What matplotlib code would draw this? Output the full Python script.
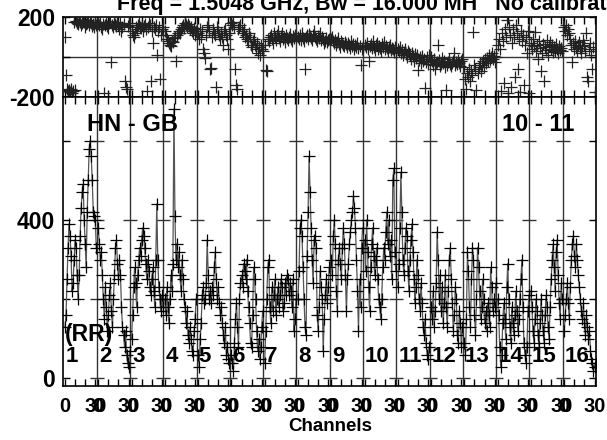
import numpy as np
import matplotlib.pyplot as plt

plt.rcParams["font.family"] = ["Liberation Sans", "DejaVu Sans"]
plt.rcParams["font.weight"] = "bold"

baseline = "HN - GB"
stokes = "(RR)"
timerange = "10 - 11"
title = "Freq = 1.5048 GHz, Bw = 16.000 MH   No calibration"

n_if = 16
n_chan = 32
if_labels = [str(i) for i in range(1, n_if + 1)]

# amplitude per IF, channels 0..31
amp = [
    [130, 160, 250, 330, 390, 360, 310, 220, 240, 300, 350, 330, 260, 200, 260, 360,
     430, 470, 490, 400, 340, 280, 420, 500, 580, 600, 560, 500, 420, 410, 400, 330],
    [380, 340, 300, 320, 260, 200, 150, 230, 180, 120, 160, 210, 240, 170, 130, 200,
     260, 330, 350, 290, 250, 300, 260, 180, 130, 110, 80, 120, 60, 40, 30, 70],
    [100, 160, 230, 280, 240, 180, 260, 300, 330, 310, 350, 380, 360, 330, 290, 250,
     300, 270, 230, 210, 250, 280, 220, 180, 300, 440, 300, 230, 200, 170, 210, 180],
    [200, 160, 230, 180, 140, 200, 260, 220, 290, 680, 410, 300, 340, 280, 320, 260,
     220, 300, 250, 200, 180, 140, 170, 110, 90, 130, 100, 70, 60, 120, 150, 200],
    [60, 30, 100, 140, 210, 230, 190, 200, 240, 350, 260, 200, 220, 190, 230, 210,
     280, 320, 250, 200, 230, 190, 160, 180, 140, 110, 90, 130, 60, 80, 50, 40],
    [60, 40, 20, 90, 150, 190, 130, 80, 200, 240, 260, 230, 290, 270, 250, 300,
     220, 180, 140, 90, 80, 160, 280, 250, 200, 120, 70, 100, 50, 80, 130, 170],
    [40, 120, 200, 280, 300, 180, 140, 230, 170, 210, 250, 160, 200, 230, 180, 210,
     250, 230, 170, 190, 240, 210, 260, 250, 210, 240, 220, 180, 250, 120, 150, 200],
    [200, 270, 380, 400, 360, 280, 200, 130, 110, 310, 420, 560, 470, 380, 300, 240,
     350, 360, 330, 160, 120, 180, 270, 230, 200, 70, 150, 210, 250, 190, 230, 280],
    [300, 260, 360, 400, 340, 220, 170, 300, 330, 290, 250, 330, 380, 340, 260, 170,
     250, 290, 340, 370, 400, 420, 460, 430, 380, 300, 220, 120, 250, 180, 330, 380],
    [350, 270, 400, 320, 230, 170, 280, 340, 380, 310, 260, 300, 330, 250, 200, 180,
     150, 200, 280, 330, 300, 370, 420, 340, 400, 310, 350, 250, 500, 530, 320, 270],
    [230, 290, 380, 520, 420, 300, 260, 330, 380, 360, 270, 220, 300, 350, 390, 320,
     250, 190, 230, 300, 260, 200, 170, 240, 190, 130, 110, 150, 90, 60, 50, 80],
    [180, 150, 220, 130, 170, 240, 370, 300, 200, 260, 170, 230, 140, 190, 260, 180,
     130, 220, 300, 330, 250, 190, 120, 160, 230, 200, 110, 90, 170, 140, 80, 130],
    [90, 60, 150, 320, 270, 180, 130, 250, 330, 300, 160, 110, 200, 330, 280, 220,
     150, 180, 250, 200, 140, 170, 120, 190, 160, 130, 280, 230, 170, 200, 180, 240],
    [200, 160, 80, 30, 60, 140, 190, 150, 100, 230, 290, 200, 130, 90, 180, 140,
     110, 160, 220, 170, 120, 150, 200, 250, 300, 180, 90, 60, 40, 80, 170, 210],
    [220, 180, 120, 90, 150, 200, 170, 110, 80, 140, 200, 160, 120, 90, 160, 210,
     180, 130, 100, 180, 250, 300, 340, 280, 220, 320, 350, 260, 190, 150, 240, 200],
    [120, 160, 200, 240, 190, 150, 230, 300, 340, 360, 310, 280, 340, 300, 260, 230,
     200, 170, 150, 190, 140, 110, 160, 130, 100, 120, 70, 50, 40, 20, 30, 40],
]

# phase (degrees) per IF, channels 0..31
phase = [
    [100, -90, -160, -170, -165, -175, -160, -180, -170, 175, -165, 180, 170, 165, 185, 175,
     160, 170, 180, 175, 150, 165, 170, 185, 160, 175, 170, 155, 165, 150, 170, 160],
    [170, 160, 175, 150, 140, 165, -180, 160, 170, 155, 145, 170, 180, -25, 160, 150,
     170, 165, 155, 175, 160, 140, 170, 130, 150, 165, -120, -150, -160, 155, 170, 160],
    [130, 110, 100, 120, 150, 140, 160, 170, 150, 145, 160, 130, 155, 165, 140, -170,
     150, 170, 160, -120, 130, 70, 150, 140, 160, 10, 130, 150, -110, 110, 140, 150],
    [130, 110, 90, 80, 70, 60, 55, 80, 75, 95, 100, -20, 110, 120, 130, 120,
     140, 150, 160, 145, 170, 160, 150, 165, 155, 140, 150, 130, 120, 145, 110, 130],
    [120, 90, 140, 100, 130, 40, 20, -5, 110, 150, 160, 130, -60, -55, 100, 140,
     120, 110, -150, 150, 130, 110, 90, 120, 100, 60, 130, 140, 110, 90, 40, 120],
    [170, 160, 175, 150, -60, -140, -160, 140, 150, 160, 130, 120, 140, 100, 110, 90,
     80, 120, 100, 60, 50, 80, 90, 60, 40, 70, 20, 50, 10, 60, 40, 30],
    [60, -65, -70, 90, 80, 100, 110, 90, 70, 120, 100, 85, 110, 130, 95, 80,
     105, 120, 90, 100, 75, 110, 95, 85, 100, 115, 90, 80, 105, 95, 110, 100],
    [100, 90, 110, 85, 120, 95, 80, -60, 100, 110, 90, 115, 105, 95, 85, 110,
     130, 100, 90, 80, 105, 95, 120, 85, 100, 90, 70, 80, 95, 75, 85, 90],
    [90, 100, 80, 70, 85, 60, 75, 95, 65, 50, 80, 70, 60, 55, 75, 65,
     50, 70, 60, 45, 80, 55, 65, 40, 60, 50, 70, 45, 55, -40, 40, 50],
    [60, 50, 70, 40, -20, 55, 65, 45, 80, 50, 35, 60, 70, 40, 55, 45,
     30, 65, 50, 75, 40, 55, 45, 30, 50, 60, 35, 45, 40, 25, 50, 20],
    [40, 30, 50, 20, 35, 10, 25, 40, 15, 0, 30, 20, 10, -10, 20, 5,
     -20, 15, -5, 10, -65, -15, 0, -30, 5, -20, -10, -155, -25, 0, -35, 10],
    [0, -20, -40, -10, -60, -30, -25, 60, -15, -45, -35, -5, -30, -20, -50, -165,
     -40, -25, -10, -35, -45, -30, -20, 20, -40, -25, -35, -15, -30, -45, -20, -10],
    [-50, -110, -160, -80, -100, -60, -120, -70, -90, 125, -40, -60, -165, -80, -50, -30,
     -70, -40, -20, -50, -10, -30, -5, -20, 10, -15, 0, 20, -10, 5, -25, 0],
    [60, 90, 40, -170, 120, 80, -130, 140, 100, 185, -180, 150, 110, -150, 70, 140,
     100, -100, 160, 120, -60, 90, -175, 130, 80, 110, -140, 60, 100, 20, 130, -180],
    [70, 40, 90, 55, 125, 30, 60, -10, 80, 45, -70, 20, 65, -120, 50, 35,
     85, 10, 55, 75, 40, 60, 25, 50, 30, 65, 40, 20, 55, 35, 45, 30],
    [150, 130, 160, 110, 140, 120, 90, 60, -25, 70, 40, 80, 50, 30, 60, 75,
     45, 20, 55, 85, 60, 30, 118, -100, -120, 40, 70, 10, -60, 50, -175, 30],
]

step = n_chan + 1
chan = np.arange(n_chan)
starts = np.arange(n_if) * step
bounds = np.arange(1, n_if) * step - 1.5
xmin, xmax = -1.5, n_if * step - 1.5

fig = plt.figure(figsize=(6.07, 4.40), dpi=100)
ax_ph = fig.add_axes([0.1046, 0.7795, 0.8773, 0.1818])
ax_am = fig.add_axes([0.1046, 0.1227, 0.8773, 0.6568])

for k in range(n_if):
    x = starts[k] + chan
    ax_am.plot(x, amp[k], color="#555555", lw=0.9, zorder=2)
    ax_am.plot(x, amp[k], ls="none", marker="+", ms=9, mew=0.9, color="black", zorder=3)
    ax_ph.plot(x, phase[k], ls="none", marker="+", ms=9, mew=0.9, color="#222222", zorder=3)

for ax in (ax_ph, ax_am):
    for b in bounds:
        ax.axvline(b, color="#333333", lw=1.0, zorder=1)
    ax.set_xlim(xmin, xmax)
    for s in ax.spines.values():
        s.set_linewidth(1.2)
    minor = np.concatenate([s + np.array([10, 20]) for s in starts])
    ax.set_xticks(minor, minor=True)
    ax.tick_params(axis="both", which="both", direction="in", top=True, right=True,
                   length=5, width=1.0)

ax_ph.set_ylim(-200, 200)
ax_ph.axhline(0, color="#333333", lw=1.0, zorder=1)
ax_ph.set_yticks([-200, 0, 200])
ax_ph.set_yticklabels(["-200", "", "200"], fontsize=16.5, fontweight="bold")
ax_ph.set_xticks(np.concatenate([starts, starts + 30]))
ax_ph.set_xticklabels([])

ax_am.set_ylim(-19, 710)
amp_ticks = [0, 200, 400, 600]
ax_am.set_yticks(amp_ticks)
ax_am.set_yticklabels(["0", "", "400", ""], fontsize=16.5, fontweight="bold")
for t in amp_ticks:
    ax_am.plot(bounds, [t] * len(bounds), ls="none", marker="_", ms=10, mew=1.0,
               color="#333333", zorder=1)

xt = np.concatenate([starts, starts + 30])
xl = ["0"] * n_if + ["30"] * n_if
ax_am.set_xticks(xt)
ax_am.set_xticklabels(xl, fontsize=14.5, fontweight="bold")
ax_am.tick_params(axis="x", pad=8)
ax_am.tick_params(axis="y", pad=6)
ax_ph.tick_params(axis="y", pad=6)
ax_am.set_xlabel("Channels", fontsize=13.5, fontweight="bold", labelpad=1)

ax_am.text(0.045, 0.905, baseline, transform=ax_am.transAxes, fontsize=17,
           fontweight="bold", va="center", ha="left")
ax_am.text(0.96, 0.905, timerange, transform=ax_am.transAxes, fontsize=17,
           fontweight="bold", va="center", ha="right")
ax_am.text(starts[0] - 0.5, 110, stokes, fontsize=16.5, fontweight="bold",
           va="center", ha="left")
for k in range(n_if):
    ax_am.text(starts[k] + 0.5, 55, if_labels[k], fontsize=16, fontweight="bold",
               va="center", ha="left", zorder=4)

fig.text(117 / 607, 1 - 10 / 440, title, fontsize=15.5, fontweight="bold",
         va="baseline", ha="left")

fig.savefig("out.png", dpi=100)
